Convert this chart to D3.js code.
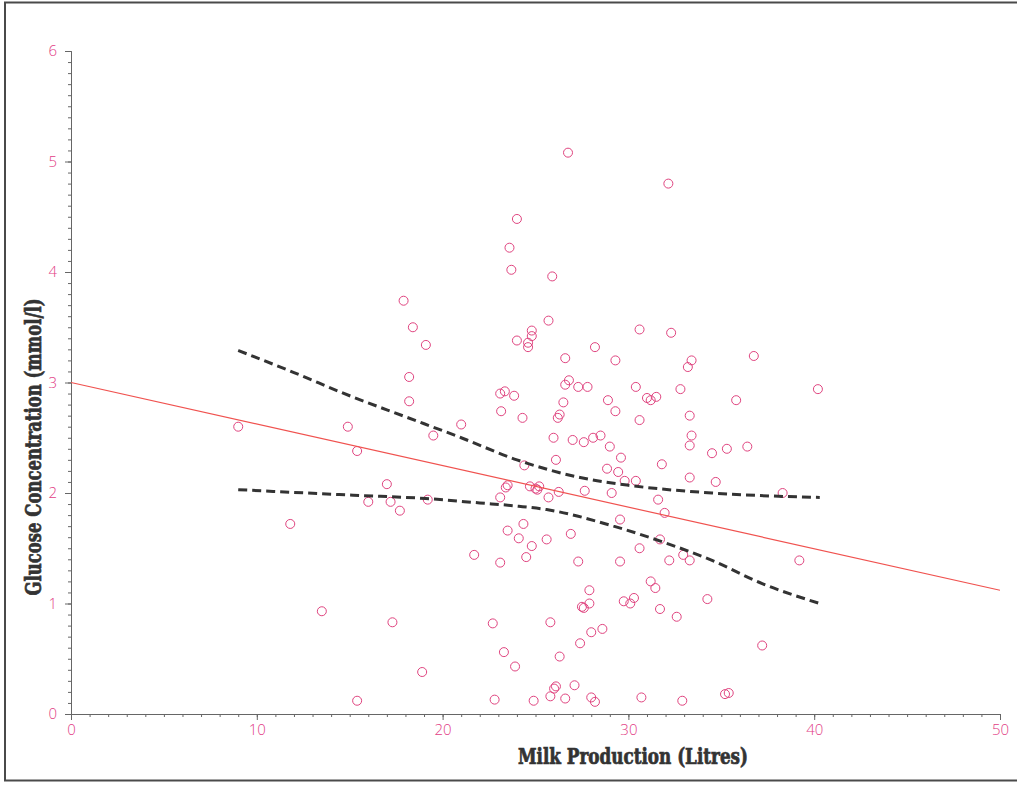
<!DOCTYPE html>
<html>
<head>
<meta charset="utf-8">
<script src="https://cdn.jsdelivr.net/npm/d3@7"></script>
<style>
  body { margin: 0; background: #fff; }
  .tick-label { font-family: "Open Sans", "DejaVu Sans", sans-serif; font-weight: 300; font-size: 15px; fill: #e23d86; }
  .axis-title { font-family: "DejaVu Serif Condensed", "DejaVu Serif", serif; font-weight: bold; font-stretch: condensed; fill: #333; stroke: #333; stroke-width: 0.7; }
</style>
</head>
<body>
<div id="main"></div>
<script>
// milk production (litres) and glucose (mmol/l), one entry per cow
const milk = [
  9.0, 11.8, 13.5, 14.9, 15.4, 15.4, 16.0, 17.0, 17.2, 17.3,
  17.7, 17.9, 18.2, 18.2, 18.4, 18.9, 19.1, 19.2, 19.5, 21.0,
  21.7, 22.7, 22.8, 23.1, 23.35, 23.85, 23.15, 23.1, 23.4, 23.5,
  23.5, 23.1, 23.3, 23.6, 23.7, 24.0, 24.0, 24.1, 23.9, 24.3,
  24.35, 24.4, 24.5, 24.6, 24.6, 24.7, 24.8, 24.8, 24.8, 24.9,
  25.0, 25.2, 25.1, 25.6, 25.7, 25.7, 25.8, 25.8, 25.9, 25.97,
  26.0, 26.1, 26.1, 26.25, 26.3, 26.2, 26.3, 26.5, 26.6, 26.6,
  26.6, 26.75, 26.8, 26.9, 27.0, 27.1, 27.3, 27.3, 27.4, 27.5,
  27.6, 27.6, 27.65, 27.8, 27.9, 27.9, 28.0, 28.0, 28.1, 28.2,
  28.2, 28.5, 28.6, 28.85, 28.9, 29.0, 29.1, 29.3, 29.3, 29.45,
  29.55, 29.55, 29.6, 29.75, 29.8, 30.1, 30.3, 30.4, 30.4, 30.6,
  30.6, 30.6, 30.7, 31.0, 31.2, 31.5, 31.2, 31.45, 31.6, 31.7,
  31.7, 31.8, 31.95, 32.15, 32.2, 32.3, 32.6, 32.8, 32.9, 32.95,
  33.2, 33.4, 33.3, 33.4, 33.3, 33.3, 33.3, 34.25, 34.5, 34.7,
  35.2, 35.4, 35.3, 35.8, 36.4, 36.75, 37.2, 38.3, 39.2, 40.2
];
const glucose = [
  2.60, 1.72, 0.93, 2.60, 2.38, 0.12, 1.92, 2.08, 1.92, 0.83,
  1.84, 3.74, 3.05, 2.83, 3.50, 0.38, 3.34, 1.94, 2.52, 2.62,
  1.44, 0.82, 0.13, 2.90, 2.92, 2.88, 2.74, 1.96, 2.05, 2.07,
  1.66, 1.37, 0.56, 4.22, 4.02, 4.48, 3.38, 1.59, 0.43, 2.68,
  1.72, 2.25, 1.42, 3.36, 3.32, 2.06, 3.47, 3.42, 1.52, 0.12,
  2.04, 2.06, 2.03, 1.58, 1.96, 3.56, 0.83, 0.16, 3.96, 2.50,
  0.23, 0.25, 2.30, 2.01, 2.71, 2.68, 0.52, 2.82, 3.22, 2.98,
  0.14, 5.08, 3.02, 1.63, 2.48, 0.26, 2.96, 1.38, 0.64, 0.97,
  0.96, 2.46, 2.02, 2.96, 1.12, 1.00, 0.74, 0.15, 2.50, 3.32,
  0.11, 2.52, 0.77, 2.22, 2.84, 2.42, 2.00, 3.20, 2.74, 2.19,
  1.76, 1.38, 2.32, 1.02, 2.11, 1.00, 1.05, 2.96, 2.11, 3.48,
  2.66, 1.50, 0.15, 2.86, 2.84, 2.87, 1.20, 1.14, 1.94, 1.58,
  0.95, 2.26, 1.82, 4.80, 1.39, 3.45, 0.88, 2.94, 0.12, 1.44,
  3.14, 3.20, 2.70, 2.52, 2.43, 2.14, 1.39, 1.04, 2.36, 2.10,
  0.18, 0.19, 2.40, 2.84, 2.42, 3.24, 0.62, 2.00, 1.39, 2.94
];

// fitted line and confidence band
const fitX = [0, 50];
const fitY = [3.0, 1.12];
const upperX = [9, 12, 15, 18, 21, 24, 27.4, 30, 34.5, 40.3];
const upperY = [3.29, 3.09, 2.88, 2.69, 2.50, 2.30, 2.14, 2.07, 2.00, 1.96];
const lowerX = [9, 15.2, 19.1, 22, 24.1, 25.6, 29.2, 31.8, 34.5, 37.2, 40.3];
const lowerY = [2.03, 1.98, 1.95, 1.91, 1.88, 1.85, 1.70, 1.56, 1.39, 1.18, 1.00];

const xTicks = [0, 10, 20, 30, 40, 50];
const yTicks = [0, 1, 2, 3, 4, 5, 6];

const width = 1017;
const height = 785;

function drawChart() {
  const svg = d3.select("#main").append("svg")
    .attr("width", width)
    .attr("height", height);

  // scanned page frame
  svg.append("rect")
    .attr("x", 5).attr("y", 2.5)
    .attr("width", 1020).attr("height", 778)
    .attr("fill", "none")
    .attr("stroke", "#4a4a4a")
    .attr("stroke-width", 2);

  const x = d3.scaleLinear().domain([0, 50]).range([71, 1000]);
  const y = d3.scaleLinear().domain([0, 6]).range([714, 51]);

  // axes with minor ticks
  const xMinor = svg.append("g")
    .attr("transform", `translate(0,${y(0)})`)
    .call(d3.axisBottom(x).ticks(50).tickSize(3).tickFormat(""));
  const xAxis = svg.append("g")
    .attr("transform", `translate(0,${y(0)})`)
    .call(d3.axisBottom(x).tickValues(xTicks).tickSize(6).tickPadding(4).tickFormat(d3.format("d")));

  const yMinor = svg.append("g")
    .attr("transform", `translate(${x(0)},0)`)
    .call(d3.axisLeft(y).ticks(60).tickSize(3).tickFormat(""));
  const yAxis = svg.append("g")
    .attr("transform", `translate(${x(0)},0)`)
    .call(d3.axisLeft(y).tickValues(yTicks).tickSize(6).tickPadding(8).tickFormat(d3.format("d")));

  [xMinor, xAxis, yMinor, yAxis].forEach((g) => {
    g.selectAll("path, line").attr("stroke", "#666").attr("stroke-width", 1);
  });
  [xAxis, yAxis].forEach((g) => {
    g.selectAll("text").attr("class", "tick-label").attr("font-size", null).attr("font-family", null).attr("fill", null);
  });

  // axis titles
  svg.append("text")
    .attr("class", "axis-title")
    .attr("x", 633).attr("y", 764)
    .attr("text-anchor", "middle")
    .attr("font-size", 23)
    .attr("textLength", 230)
    .attr("lengthAdjust", "spacingAndGlyphs")
    .text("Milk Production (Litres)");

  svg.append("text")
    .attr("class", "axis-title")
    .attr("transform", "translate(41,447) rotate(-90)")
    .attr("text-anchor", "middle")
    .attr("font-size", 23)
    .attr("textLength", 297)
    .attr("lengthAdjust", "spacingAndGlyphs")
    .text("Glucose Concentration (mmol/l)");

  // points
  svg.append("g")
    .selectAll("circle")
    .data(d3.zip(milk, glucose))
    .enter()
    .append("circle")
    .attr("cx", (d) => x(d[0]))
    .attr("cy", (d) => y(d[1]))
    .attr("r", 4.5)
    .attr("fill", "none")
    .attr("stroke", "#e0447f")
    .attr("stroke-width", 1);

  const line = d3.line()
    .x((d) => x(d[0]))
    .y((d) => y(d[1]));

  svg.append("path")
    .datum(d3.zip(fitX, fitY))
    .attr("d", line)
    .attr("fill", "none")
    .attr("stroke", "#f0524f")
    .attr("stroke-width", 1.2);

  const band = d3.line()
    .x((d) => x(d[0]))
    .y((d) => y(d[1]))
    .curve(d3.curveMonotoneX);

  [d3.zip(upperX, upperY), d3.zip(lowerX, lowerY)].forEach((pts) => {
    svg.append("path")
      .datum(pts)
      .attr("d", band)
      .attr("fill", "none")
      .attr("stroke", "#333")
      .attr("stroke-width", 3)
      .attr("stroke-dasharray", "9,5");
  });
}

drawChart();
</script>
</body>
</html>
